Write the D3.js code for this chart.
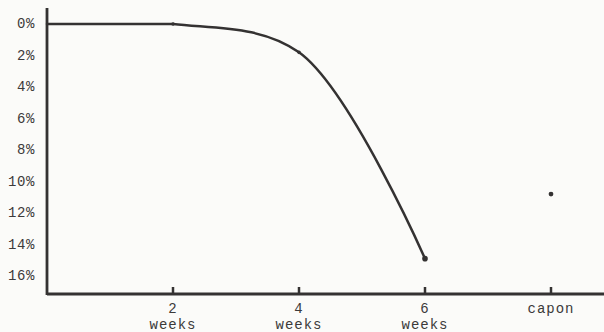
<!DOCTYPE html>
<html><head><meta charset="utf-8">
<script src="https://cdn.jsdelivr.net/npm/d3@7/dist/d3.min.js"></script>
<style>html,body{margin:0;padding:0;background:#fbfbf9;}svg{display:block;}</style>
</head><body>
<script>
const yTickValues = [0, 2, 4, 6, 8, 10, 12, 14, 16];
const yTickLabels = ["0%", "2%", "4%", "6%", "8%", "10%", "12%", "14%", "16%"];
const xTickValues = [2, 4, 6, 8];
const xTickLabels = [["2", "weeks"], ["4", "weeks"], ["6", "weeks"], ["capon", ""]];
const curveWeeks = [0, 2, 4, 6];
const curveValues = [0, 0, 1.8, 14.9];
const pointX = [2, 4, 6, 8];
const pointValues = [0, 1.8, 14.9, 10.8];
const pointSizes = [1.8, 1.8, 2.8, 2.4];

const W = 604, H = 332;
const ink = "#343232";
const font = "Liberation Mono, Courier New, monospace";
const svg = d3.select("body").append("svg").attr("width", W).attr("height", H);
svg.append("rect").attr("width", W).attr("height", H).attr("fill", "#fbfbf9");

const x = d3.scaleLinear().domain([0, 8]).range([47, 551]);
const y = d3.scaleLinear().domain([0, 16]).range([24, 276]);

// axes lines
svg.append("line").attr("x1", x(0)).attr("x2", x(0)).attr("y1", 8).attr("y2", 295)
  .attr("stroke", ink).attr("stroke-width", 2.8);
svg.append("line").attr("x1", x(0)).attr("x2", W).attr("y1", 294).attr("y2", 294)
  .attr("stroke", ink).attr("stroke-width", 2.8);

// y labels
svg.selectAll("text.yl").data(yTickValues).enter().append("text")
  .attr("x", 35).attr("y", d => y(d)).attr("dy", "0.3em")
  .attr("text-anchor", "end").attr("font-family", font)
  .attr("font-size", 14).attr("letter-spacing", "0.6px").attr("fill", "#3c3a3a")
  .text((d, i) => yTickLabels[i]);

// x ticks
svg.selectAll("line.xt").data(xTickValues).enter().append("line")
  .attr("x1", d => x(d)).attr("x2", d => x(d)).attr("y1", 287).attr("y2", 294)
  .attr("stroke", ink).attr("stroke-width", 2.5);

const xl = svg.selectAll("g.xl").data(xTickValues).enter().append("g");
xl.append("text").attr("x", d => x(d)).attr("y", 313).attr("text-anchor", "middle")
  .attr("font-family", font).attr("font-size", 14).attr("letter-spacing", "1px").attr("fill", "#3c3a3a")
  .text((d, i) => xTickLabels[i][0]);
xl.append("text").attr("x", d => x(d)).attr("y", 329).attr("text-anchor", "middle")
  .attr("font-family", font).attr("font-size", 14).attr("letter-spacing", "1px").attr("fill", "#3c3a3a")
  .text((d, i) => xTickLabels[i][1]);

// curve: flat part drawn straight, the rest as a smooth spline
const pts = curveWeeks.map((w, i) => [w, curveValues[i]]);
const straight = d3.line().x(d => x(d[0])).y(d => y(d[1]));
svg.append("path").datum(pts.slice(0, 2))
  .attr("d", straight).attr("fill", "none").attr("stroke", ink).attr("stroke-width", 2.5)
  .attr("stroke-linecap", "round");

svg.append("clipPath").attr("id", "clipR").append("rect")
  .attr("x", x(curveWeeks[1])).attr("y", 0).attr("width", W).attr("height", H);
const line = d3.line().x(d => x(d[0])).y(d => y(d[1])).curve(d3.curveCatmullRom.alpha(0.5));
svg.append("path").datum(pts)
  .attr("d", line).attr("fill", "none").attr("stroke", ink).attr("stroke-width", 2.5)
  .attr("clip-path", "url(#clipR)");

svg.selectAll("circle.pt").data(pointX).enter().append("circle")
  .attr("cx", d => x(d)).attr("cy", (d, i) => y(pointValues[i])).attr("r", (d, i) => pointSizes[i])
  .attr("fill", ink);
</script>
</body></html>
